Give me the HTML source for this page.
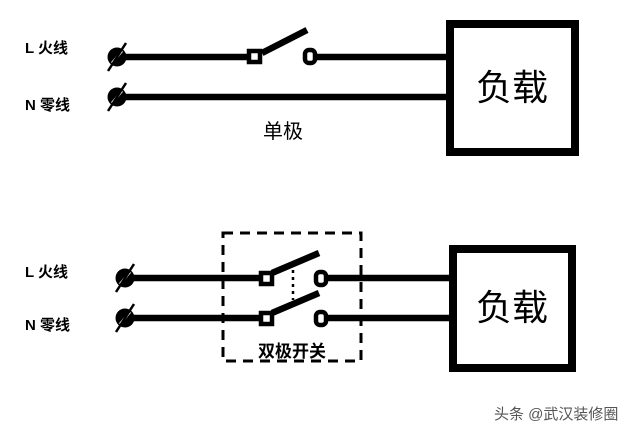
<!DOCTYPE html>
<html><head><meta charset="utf-8"><style>
body{margin:0;background:#fff}
svg text{font-family:"Liberation Sans","Noto Sans CJK SC",sans-serif}
</style></head><body>
<svg width="640" height="435" viewBox="0 0 640 435" xmlns="http://www.w3.org/2000/svg">
<rect width="640" height="435" fill="#fff"/>
<g fill="#000" font-weight="bold" font-size="15" style="font-family:'Liberation Mono','Noto Sans CJK SC',monospace">
<text x="25" y="53">L 火线</text>
<text x="25" y="110">N 零线</text>
<text x="25" y="277">L 火线</text>
<text x="25" y="330">N 零线</text>
</g>
<g stroke="#000" stroke-width="6.5" fill="none">
<line x1="118" y1="57" x2="250" y2="57"/>
<line x1="312" y1="57" x2="450" y2="57"/>
<line x1="118" y1="97" x2="450" y2="97"/>
<line x1="262" y1="53" x2="307" y2="30"/>
<rect x="450" y="24" width="125" height="128" stroke-width="8"/>
<line x1="125" y1="278" x2="262" y2="278"/>
<line x1="322" y1="278" x2="450" y2="278"/>
<line x1="125" y1="318" x2="262" y2="318"/>
<line x1="322" y1="318" x2="450" y2="318"/>
<line x1="272" y1="273" x2="319" y2="253"/>
<line x1="272" y1="313" x2="319" y2="293"/>
<rect x="453" y="249" width="119" height="119" stroke-width="8"/>
</g>
<g fill="#000">
<circle cx="117" cy="57" r="9.5"/><circle cx="117" cy="97" r="9.5"/>
<circle cx="125" cy="278" r="9.5"/><circle cx="125" cy="318" r="9.5"/>
</g>
<g stroke="#fff" stroke-width="2.5">
<line x1="112" y1="63" x2="122" y2="51"/><line x1="112" y1="103" x2="122" y2="91"/>
<line x1="120" y1="284" x2="130" y2="272"/><line x1="120" y1="324" x2="130" y2="312"/>
</g>
<g stroke="#000" stroke-width="2.5">
<line x1="108" y1="71" x2="126" y2="43"/><line x1="108" y1="111" x2="126" y2="83"/>
<line x1="116" y1="292" x2="134" y2="264"/><line x1="116" y1="332" x2="134" y2="304"/>
</g>
<g fill="#fff" stroke="#000" stroke-width="4.5">
<rect x="249" y="51" width="11" height="11"/>
<rect x="305" y="50" width="10" height="13" rx="4"/>
<rect x="261" y="273" width="11" height="11"/>
<rect x="316" y="272" width="10" height="13" rx="4"/>
<rect x="261" y="313" width="11" height="11"/>
<rect x="316" y="312" width="10" height="13" rx="4"/>
</g>
<line x1="293" y1="270" x2="293" y2="300" stroke="#000" stroke-width="2.5" stroke-dasharray="3,4"/>
<rect x="223" y="233" width="138" height="128" fill="none" stroke="#000" stroke-width="3" stroke-dasharray="10,7"/>
<g fill="#000" font-size="36">
<text x="512" y="100" text-anchor="middle">负载</text>
<text x="512" y="320" text-anchor="middle">负载</text>
</g>
<text x="283" y="138" font-size="20" text-anchor="middle" fill="#000">单极</text>
<text x="292" y="357" font-size="17" font-weight="bold" text-anchor="middle" fill="#000">双极开关</text>
<text x="494" y="419" font-size="15" fill="#555">头条 @武汉装修圈</text>
</svg>
</body></html>
